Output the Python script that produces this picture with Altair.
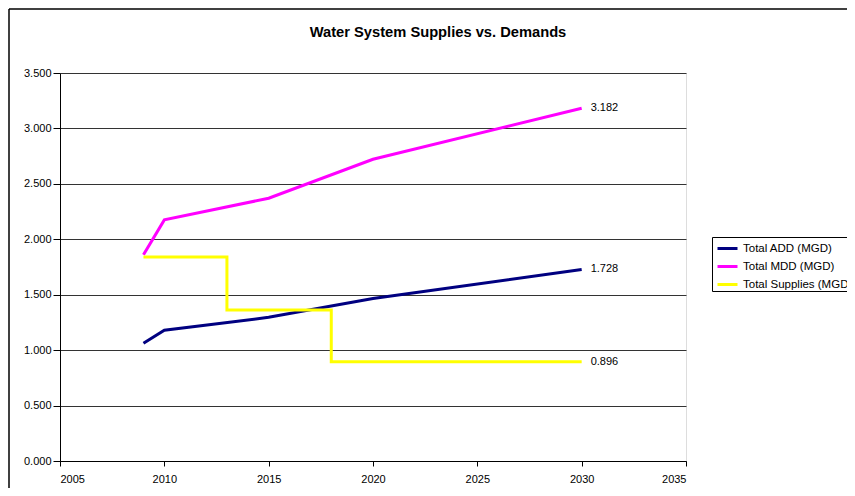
import altair as alt
import pandas as pd

# ---- data ----
demand_years = [2009, 2010, 2015, 2020, 2030]
add_vals = [1.062, 1.180, 1.296, 1.465, 1.728]
mdd_vals = [1.860, 2.175, 2.370, 2.722, 3.182]
supply_years = [2009, 2013, 2018, 2030]
supply_vals = [1.840, 1.362, 0.896, 0.896]
series_names = ["Total ADD (MGD)", "Total MDD (MGD)", "Total Supplies (MGD)"]
series_colors = ["#000080", "#FF00FF", "#FFFF00"]
x_ticks = [2005, 2010, 2015, 2020, 2025, 2030, 2035]
y_ticks = [0.0, 0.5, 1.0, 1.5, 2.0, 2.5, 3.0, 3.5]
title_text = "Water System Supplies vs. Demands"

FONT = "Liberation Sans"

demand_df = pd.DataFrame({
    "year": demand_years + demand_years,
    "value": add_vals + mdd_vals,
    "series": [series_names[0]] * len(demand_years) + [series_names[1]] * len(demand_years),
})
supply_df = pd.DataFrame({
    "year": supply_years,
    "value": supply_vals,
    "series": [series_names[2]] * len(supply_years),
})
end_df = pd.DataFrame({
    "year": [demand_years[-1], demand_years[-1], supply_years[-1]],
    "value": [add_vals[-1], mdd_vals[-1], supply_vals[-1]],
})

x_enc = alt.X(
    "year:Q",
    scale=alt.Scale(domain=[2005, 2035], nice=False, zero=False),
    axis=alt.Axis(values=x_ticks, format="d", title=None, grid=False,
                  domainColor="black", tickColor="black", tickSize=5,
                  labelPadding=7, labelFontSize=11, labelFont=FONT, labelColor="black"),
)
y_enc = alt.Y(
    "value:Q",
    scale=alt.Scale(domain=[0, 3.5], nice=False),
    axis=alt.Axis(values=y_ticks, format=".3f", title=None, grid=True,
                  gridColor="#333333", gridOpacity=1, gridWidth=1,
                  domainColor="black", tickColor="black", tickSize=7,
                  labelPadding=2, labelFontSize=11, labelFont=FONT, labelColor="black"),
)
color_enc = alt.Color(
    "series:N",
    scale=alt.Scale(domain=series_names, range=series_colors),
    legend=alt.Legend(
        title=None, orient="none", legendX=652, legendY=164,
        strokeColor="black", fillColor="white", padding=0,
        symbolType="stroke", symbolStrokeWidth=3, symbolSize=400, symbolOffset=4,
        labelFontSize=11.5, labelFont=FONT, labelColor="black", labelOffset=4,
        rowPadding=0,
    ),
)

demand_lines = alt.Chart(demand_df).mark_line(strokeWidth=3).encode(
    x=x_enc, y=y_enc, color=color_enc
)
supply_line = alt.Chart(supply_df).mark_line(strokeWidth=3, interpolate="step-after").encode(
    x=x_enc, y=y_enc, color=color_enc
)
end_labels = alt.Chart(end_df).mark_text(
    align="left", dx=9, fontSize=11, font=FONT, color="black"
).encode(x=x_enc, y=y_enc, text=alt.Text("value:Q", format=".3f"))

one_df = pd.DataFrame({"a": [0]})
border_top = alt.Chart(one_df).mark_rule(color="black", strokeWidth=1.5).encode(
    x=alt.value(-51), x2=alt.value(900), y=alt.value(-64)
)
border_left = alt.Chart(one_df).mark_rule(color="black", strokeWidth=1.5).encode(
    x=alt.value(-51), y=alt.value(-64), y2=alt.value(500)
)
title_mark = alt.Chart(one_df).mark_text(
    text=title_text, font=FONT, fontSize=14.7, fontWeight="bold", color="black",
    align="center", baseline="middle"
).encode(x=alt.value(378), y=alt.value(-40))

chart = alt.layer(
    border_top, border_left, title_mark, demand_lines, supply_line, end_labels
).properties(
    width=626,
    height=388,
    autosize=alt.AutoSizeParams(type="none"),
    padding={"left": 52, "top": 65, "right": 161, "bottom": 27},
).configure_view(
    fill="#C0C0C0", stroke="#808080", strokeWidth=1
).configure(background="white")

chart.save("out.html", embed_options={"renderer": "svg", "actions": False})
